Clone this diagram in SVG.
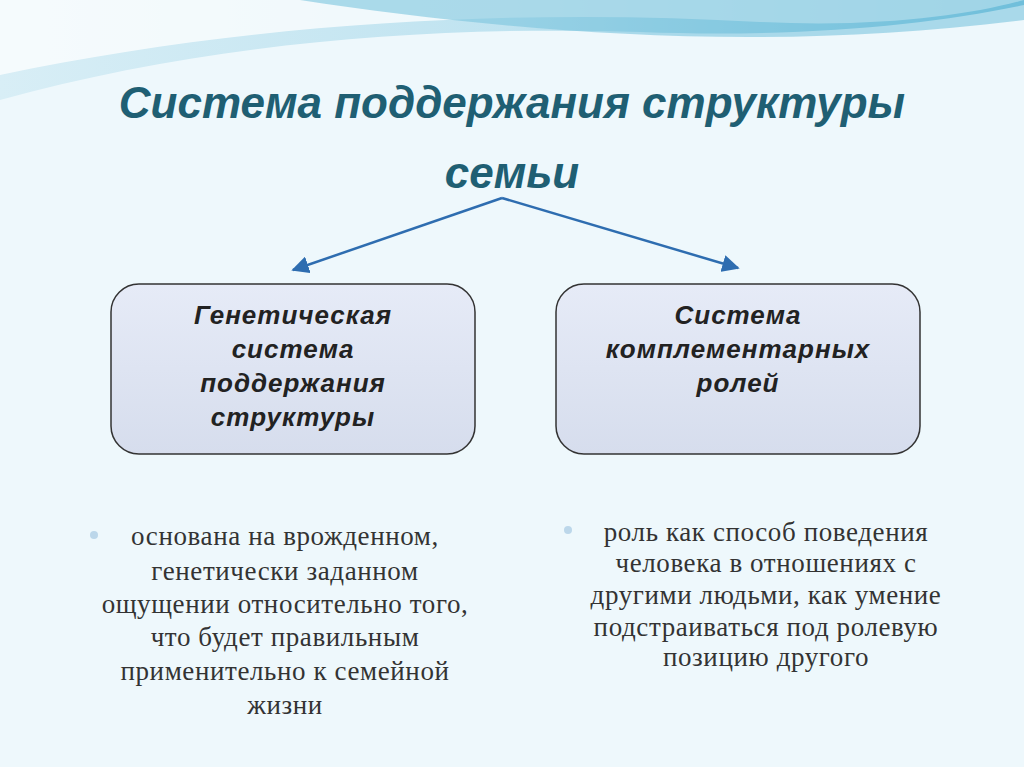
<svg xmlns="http://www.w3.org/2000/svg" width="1024" height="767" viewBox="0 0 1024 767">
<defs>
<linearGradient id="wave" x1="0" y1="0" x2="1" y2="0"><stop offset="0" stop-color="#d8eef6"/><stop offset="0.5" stop-color="#bfe3f0"/><stop offset="1" stop-color="#5fb6d6"/></linearGradient>
<linearGradient id="box" x1="0" y1="0" x2="0" y2="1"><stop offset="0" stop-color="#e6ebf7"/><stop offset="1" stop-color="#d6dded"/></linearGradient>
<marker id="ah" viewBox="0 0 10 10" refX="9" refY="5" markerWidth="7" markerHeight="7" orient="auto"><path d="M0,0 L10,5 L0,10 z" fill="#2e6db0"/></marker>
</defs>
<style>
.t{font-family:"Liberation Sans",Arial,sans-serif;font-weight:bold;font-style:italic;fill:#1f5f73;font-size:44px;text-anchor:middle}
.b{font-family:"Liberation Sans",Arial,sans-serif;font-weight:bold;font-style:italic;fill:#222;font-size:26px;text-anchor:middle;letter-spacing:1px}
.s{font-family:"Liberation Serif","Times New Roman",serif;fill:#333;font-size:27px;text-anchor:middle;letter-spacing:0.6px}
.n{fill:url(#box);stroke:#333;stroke-width:1.5}
</style>
<rect width="1024" height="767" fill="#eef8fc"/>
<path d="M0,100 C200,45 420,25 640,32 C800,38 930,25 1024,5 L1024,0 L0,0 Z" fill="url(#wave)"/>
<path d="M0,75 C250,22 520,8 760,22 C880,28 970,15 1024,0 L0,0 Z" fill="#ffffff" opacity="0.75"/>
<path d="M300,0 C500,30 750,55 1024,20 L1024,0 Z" fill="#7cc4de" opacity="0.6"/>
<text class="t" x="512" y="118">Система поддержания структуры</text>
<text class="t" x="512" y="188">семьи</text>
<g id="connectors" stroke="#2e6db0" stroke-width="2.5" fill="none">
<line x1="502" y1="198" x2="293" y2="270" marker-end="url(#ah)"/>
<line x1="502" y1="198" x2="738" y2="268" marker-end="url(#ah)"/>
</g>
<g id="n1"><rect class="n" x="111" y="284" width="364" height="170" rx="28"/>
<text class="b" x="293" y="324">Генетическая</text><text class="b" x="293" y="358">система</text><text class="b" x="293" y="392">поддержания</text><text class="b" x="293" y="426">структуры</text></g>
<g id="n2"><rect class="n" x="556" y="284" width="364" height="170" rx="28"/>
<text class="b" x="738" y="324">Система</text><text class="b" x="738" y="358">комплементарных</text><text class="b" x="738" y="392">ролей</text></g>
<g id="t1"><circle cx="94" cy="535" r="4" fill="#bcd7ea"/>
<text class="s" x="285" y="545">основана на врожденном,</text><text class="s" x="285" y="580">генетически заданном</text><text class="s" x="285" y="613">ощущении относительно того,</text><text class="s" x="285" y="646">что будет правильным</text><text class="s" x="285" y="680">применительно к семейной</text><text class="s" x="285" y="714">жизни</text></g>
<g id="t2"><circle cx="568" cy="530" r="4" fill="#bcd7ea"/>
<text class="s" x="766" y="541">роль как способ поведения</text><text class="s" x="766" y="572">человека в отношениях с</text><text class="s" x="766" y="604">другими людьми, как умение</text><text class="s" x="766" y="636">подстраиваться под ролевую</text><text class="s" x="766" y="666">позицию другого</text></g>
</svg>
